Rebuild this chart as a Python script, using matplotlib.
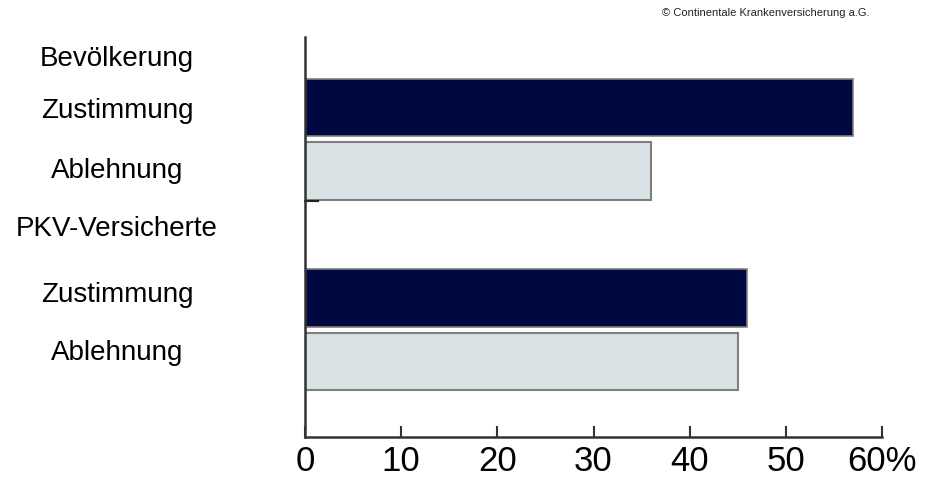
import matplotlib.pyplot as plt
from matplotlib import transforms

# answer shares in percent
groups = ['Bevölkerung', 'PKV-Versicherte']
answers = ['Zustimmung', 'Ablehnung']
zustimmung = [57, 46]
ablehnung = [36, 45]
xticks = [0, 10, 20, 30, 40, 50, 60]
xtick_labels = ['0', '10', '20', '30', '40', '50', '60%']

plt.rcParams['font.family'] = ['Liberation Sans', 'DejaVu Sans']

fig = plt.figure(figsize=(9.34, 4.78), dpi=100)
ax = fig.add_axes([305 / 934, 1 - 437 / 478, 577 / 934, 400 / 478])

navy = '#000842'
light = '#d9e2e4'
edge = '#7f7f7f'

# bar slots: group header, then one row per answer, then next group
pos_zu = [0, 3]
pos_ab = [1, 4]
ax.barh(pos_zu, zustimmung, height=0.9, color=navy, edgecolor=edge, linewidth=1.2)
ax.barh(pos_ab, ablehnung, height=0.9, color=light, edgecolor=edge, linewidth=1.5)

ax.set_xlim(0, 60)
ax.set_ylim(5.19, -1.11)

for s in ['top', 'right']:
    ax.spines[s].set_visible(False)
for s in ['left', 'bottom']:
    ax.spines[s].set_color('#333333')
    ax.spines[s].set_linewidth(1.8)

ax.set_xticks(xticks)
ax.set_xticklabels(xtick_labels, fontsize=25)
ax.tick_params(axis='x', direction='in', length=8, width=1.5, color='#333333', pad=6)
ax.set_yticks([])

# small stub between the two groups
ax.plot([0, 1.3], [1.47, 1.47], color='#222222', lw=1.5, clip_on=False)

# row labels on the left
tr = transforms.blended_transform_factory(fig.transFigure, ax.transData)
lx = 117 / 934
fs = 20
ax.text(lx, -0.76, groups[0], transform=tr, ha='center', va='center', fontsize=fs)
ax.text(lx, 0.06, answers[0], transform=tr, ha='center', va='center', fontsize=fs)
ax.text(lx, 1.0, answers[1], transform=tr, ha='center', va='center', fontsize=fs)
ax.text(lx, 1.92, groups[1], transform=tr, ha='center', va='center', fontsize=fs)
ax.text(lx, 2.96, answers[0], transform=tr, ha='center', va='center', fontsize=fs)
ax.text(lx, 3.87, answers[1], transform=tr, ha='center', va='center', fontsize=fs)

fig.text(869 / 934, 1 - 13 / 478, '© Continentale Krankenversicherung a.G.',
         ha='right', va='center', fontsize=8, color='#222222')

fig.savefig('out.png', dpi=100)
